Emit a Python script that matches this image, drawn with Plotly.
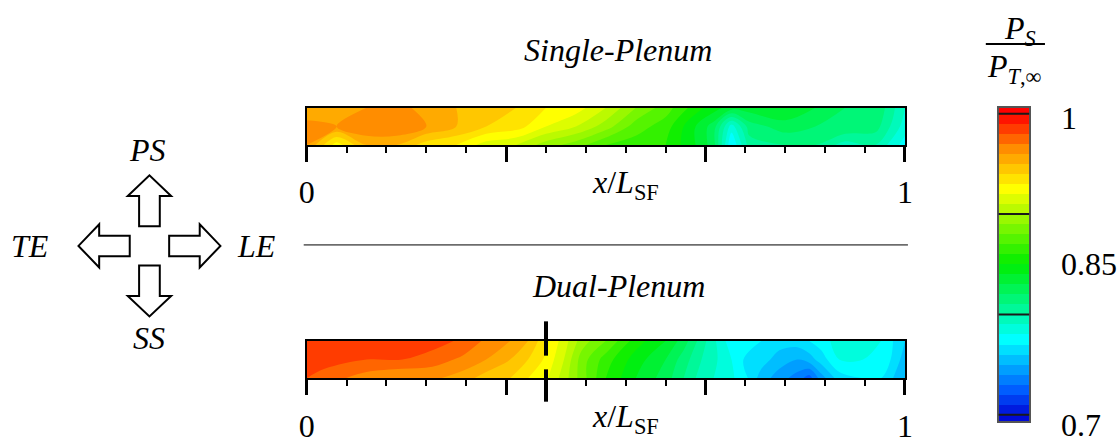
import plotly.graph_objects as go

W, H = 1119, 444
FONT = "Times New Roman, Liberation Serif, serif"

# ---------------- data ----------------
# Single-Plenum strip: P_S/P_T,inf sampled along x/L_SF at three heights
x_single = [0, .05, .10, .15, .20, .25, .30, .35, .40, .45, .50, .55, .60, .65, .68, .71, .74, .80, .85, .90, .95, 1.0]
single_top = [.95, .95, .96, .965, .955, .95, .945, .94, .93, .925, .91, .89, .875, .855, .845, .835, .835, .84, .83, .82, .82, .79]
single_mid = [.965, .96, .97, .97, .96, .95, .94, .935, .92, .91, .895, .875, .865, .84, .825, .785, .815, .825, .82, .82, .815, .785]
single_bot = [.96, .925, .95, .95, .935, .93, .915, .91, .895, .885, .87, .865, .86, .84, .825, .77, .805, .81, .81, .795, .80, .775]

# Dual-Plenum strip
x_dual = [0, .03, .10, .16, .21, .26, .30, .34, .37, .40, .43, .46, .50, .55, .60, .63, .66, .70, .73, .76, .79, .82, .84, .86, .89, .93, .96, 1.0]
dual_top = [.985, .98, .99, .99, .985, .978, .968, .96, .95, .932, .915, .895, .88, .855, .84, .825, .805, .78, .775, .77, .765, .765, .77, .775, .785, .79, .78, .76]
dual_mid = [.99, .985, .98, .98, .975, .968, .96, .95, .94, .928, .91, .885, .865, .845, .83, .815, .80, .785, .77, .765, .755, .75, .755, .765, .78, .78, .78, .755]
dual_bot = [.98, .975, .965, .96, .962, .955, .945, .94, .93, .922, .905, .885, .86, .84, .825, .81, .795, .785, .775, .755, .745, .735, .725, .745, .765, .77, .77, .75]

span_rows = [0, 0.5, 1]          # bottom, middle, top of strip
plenum_split = 0.4               # plenum divider location (x/L_SF)

major_ticks = [0, 1 / 3, 2 / 3, 1]
label_ticks = [0, 1]
label_text = ["0", "1"]
n_minor = 15

c_min, c_max, c_step = 0.7, 1.0, 0.01
cbar_centers = [round(0.695 + c_step * k, 3) for k in range(32)]
cbar_lines = [0.7, 0.8, 0.9, 1.0]
cbar_labels = [(1.0, "1", -4), (0.85, "0.85", 0), (0.7, "0.7", -10)]

colorscale = [
    [0.0, "rgb(0,10,215)"],
    [0.08, "rgb(0,90,255)"],
    [0.25, "rgb(0,255,255)"],
    [0.5, "rgb(0,238,0)"],
    [0.75, "rgb(255,255,0)"],
    [0.88, "rgb(255,145,0)"],
    [1.0, "rgb(255,0,0)"],
]


def px(x):
    return x / W


def py(y):
    return 1 - y / H


fig = go.Figure()

contour_style = dict(
    colorscale=colorscale, zmin=c_min, zmax=c_max, autocontour=False,
    contours=dict(start=c_min, end=c_max, size=c_step, coloring="fill", showlines=False),
    line=dict(width=0), showscale=False, hoverinfo="skip",
)
fig.add_trace(go.Contour(x=x_single, y=span_rows, z=[single_bot, single_mid, single_top],
                         xaxis="x", yaxis="y", **contour_style))
fig.add_trace(go.Contour(x=x_dual, y=span_rows, z=[dual_bot, dual_mid, dual_top],
                         xaxis="x2", yaxis="y2", **contour_style))
fig.add_trace(go.Heatmap(x=[0], y=cbar_centers, z=[[v] for v in cbar_centers],
                         colorscale=colorscale, zmin=c_min, zmax=c_max, showscale=False,
                         xaxis="x3", yaxis="y3", hoverinfo="skip"))
# invisible carriers for the label-only overlay axes
for xa, ya in (("x4", "y"), ("x5", "y2")):
    fig.add_trace(go.Scatter(x=[], y=[], xaxis=xa, yaxis=ya, showlegend=False, hoverinfo="skip"))

xdom = [px(303), px(910)]
tickfont = dict(family=FONT, size=32, color="black")
common_x = dict(
    range=[0, 1], domain=xdom, showline=True, linecolor="black", linewidth=2, mirror=True,
    ticks="outside", ticklen=15, tickwidth=2.5, tickcolor="black",
    tickmode="array", tickvals=major_ticks, showticklabels=False,
    showgrid=False, zeroline=False, fixedrange=True,
    minor=dict(ticks="outside", ticklen=6, tickwidth=1.5, tickcolor="black",
               tickmode="linear", tick0=0, dtick=1 / n_minor, showgrid=False),
)
label_x = dict(
    range=[0, 1], domain=xdom, showline=False, side="bottom",
    ticks="outside", ticklen=15, tickwidth=2.5, tickcolor="black",
    tickmode="array", tickvals=label_ticks, ticktext=label_text,
    tickfont=tickfont, ticklabelstandoff=4,
    showgrid=False, zeroline=False, fixedrange=True,
)
common_y = dict(range=[0, 1], showline=True, linecolor="black", linewidth=2, mirror=True,
                showticklabels=False, ticks="", showgrid=False, zeroline=False, fixedrange=True)

fig.update_layout(
    width=W, height=H, margin=dict(l=0, r=0, t=0, b=0),
    paper_bgcolor="white", plot_bgcolor="white", showlegend=False,
    font=dict(family=FONT, size=32, color="black"),
    xaxis=dict(**common_x, anchor="y"),
    yaxis=dict(**common_y, domain=[py(148), py(110)], anchor="x"),
    xaxis2=dict(**common_x, anchor="y2"),
    yaxis2=dict(**common_y, domain=[py(386), py(348)], anchor="x2"),
    xaxis4=dict(**label_x, anchor="y", overlaying="x"),
    xaxis5=dict(**label_x, anchor="y2", overlaying="x2"),
    xaxis3=dict(range=[-0.5, 0.5], domain=[px(1005), px(1036)], anchor="y3",
                showline=True, linecolor="#555", linewidth=1.5, mirror=True,
                showticklabels=False, ticks="", showgrid=False, zeroline=False, fixedrange=True),
    yaxis3=dict(range=[0.6935, 1.006], domain=[py(430), py(110)], anchor="x3",
                showline=True, linecolor="#555", linewidth=1.5, mirror=True,
                showticklabels=False, ticks="", showgrid=False, zeroline=False, fixedrange=True),
)

anns = []
tf = dict(family=FONT, size=32, color="black")
anns.append(dict(text="<i>Single-Plenum</i>", x=px(619), y=py(51), xref="paper", yref="paper",
                 showarrow=False, font=tf, xanchor="center", yanchor="middle"))
anns.append(dict(text="<i>Dual-Plenum</i>", x=px(619), y=py(292), xref="paper", yref="paper",
                 showarrow=False, font=tf, xanchor="center", yanchor="middle"))
for yc in (188, 427):
    anns.append(dict(text="<i>x</i>/<i>L</i><sub>SF</sub>", x=px(626), y=py(yc), xref="paper",
                     yref="paper", showarrow=False, font=tf, xanchor="center", yanchor="middle"))
for v, t, dy in cbar_labels:
    anns.append(dict(text=t, x=px(1066), y=v, xref="paper", yref="y3", yshift=dy,
                     showarrow=False, font=tf, xanchor="left", yanchor="middle"))
anns.append(dict(text="<i>P</i><sub><i>S</i></sub>", x=px(1027), y=py(31), xref="paper",
                 yref="paper", showarrow=False, font=tf, xanchor="center", yanchor="middle"))
anns.append(dict(text="<i>P</i><sub><i>T</i>,∞</sub>", x=px(1021), y=py(70), xref="paper",
                 yref="paper", showarrow=False, font=tf, xanchor="center", yanchor="middle"))
# direction labels
for t, xc, yc, xa in [("PS", 142, 153, "center"), ("SS", 143, 345, "center"),
                      ("LE", 230, 251, "left"), ("TE", 44, 251, "right")]:
    anns.append(dict(text="<i>%s</i>" % t, x=px(xc), y=py(yc), xref="paper", yref="paper",
                     showarrow=False, font=tf, xanchor=xa, yanchor="middle"))
fig.update_layout(annotations=anns)

shapes = []
# separator
shapes.append(dict(type="line", xref="paper", yref="paper", x0=px(300), x1=px(913),
                   y0=py(250), y1=py(250), line=dict(color="black", width=1)))
# plenum divider marker on the dual strip
for y0, y1 in [(328, 363), (377, 410)]:
    shapes.append(dict(type="line", xref="x2", yref="paper", x0=plenum_split, x1=plenum_split,
                       y0=py(y0), y1=py(y1), line=dict(color="black", width=4)))
# colorbar level lines
for v in cbar_lines:
    shapes.append(dict(type="line", xref="x3 domain", yref="y3", x0=0, x1=1, y0=v, y1=v,
                       line=dict(color="#1a1a1a", width=2)))
# fraction bar
shapes.append(dict(type="line", xref="paper", yref="paper", x0=px(992), x1=px(1052),
                   y0=py(45), y1=py(45), line=dict(color="black", width=2)))


# hollow block arrows
def arrow(cx, cy, dx, dy, s0=20, s1=51, tip=72, hw_s=10.5, hw_h=22):
    pts_local = [(s0, -hw_s), (s1, -hw_s), (s1, -hw_h), (tip, 0), (s1, hw_h), (s1, hw_s), (s0, hw_s)]
    pts = []
    for u, v in pts_local:
        X = cx + u * dx - v * dy
        Y = cy + u * dy + v * dx
        pts.append((px(X), py(Y)))
    return "M " + " L ".join("%.5f,%.5f" % p for p in pts) + " Z"


for dx, dy in [(0, -1), (0, 1), (-1, 0), (1, 0)]:
    shapes.append(dict(type="path", xref="paper", yref="paper", path=arrow(143.5, 251, dx, dy),
                       fillcolor="white", line=dict(color="black", width=2)))
fig.update_layout(shapes=shapes)

post = (
    "document.documentElement.style.margin='0';"
    "document.documentElement.style.overflow='hidden';"
    "document.body.style.margin='0';document.body.style.overflow='hidden';"
)
fig.write_html("out.html", config={"displayModeBar": False}, post_script=post)
